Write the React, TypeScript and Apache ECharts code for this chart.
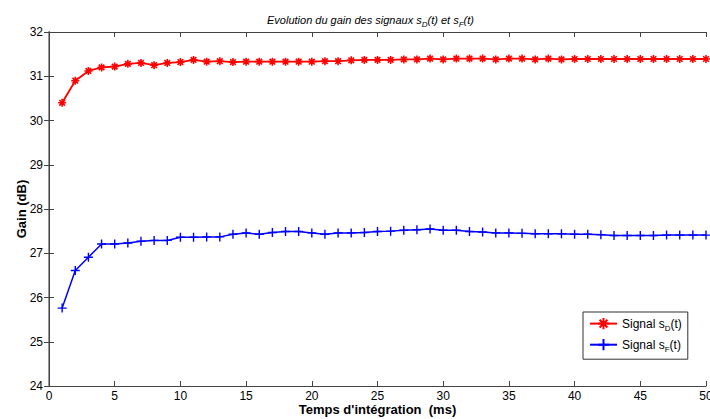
import React, { useEffect, useRef } from "react";
import * as echarts from "echarts";

const xValues = Array.from({ length: 50 }, (_, i) => i + 1);
const signalD = [
  30.40, 30.90, 31.12, 31.20, 31.22, 31.28, 31.30, 31.25, 31.30, 31.32,
  31.37, 31.33, 31.34, 31.32, 31.33, 31.33, 31.33, 31.33, 31.33, 31.33,
  31.34, 31.34, 31.36, 31.37, 31.37, 31.37, 31.38, 31.38, 31.40, 31.38,
  31.40, 31.40, 31.40, 31.38, 31.40, 31.40, 31.38, 31.40, 31.38, 31.39,
  31.39, 31.39, 31.39, 31.39, 31.39, 31.39, 31.39, 31.39, 31.39, 31.39,
];
const signalF = [
  25.76, 26.61, 26.91, 27.21, 27.21, 27.23, 27.27, 27.29, 27.29, 27.36,
  27.36, 27.37, 27.37, 27.43, 27.46, 27.43, 27.47, 27.49, 27.49, 27.46,
  27.43, 27.46, 27.46, 27.47, 27.49, 27.50, 27.52, 27.53, 27.55, 27.52,
  27.52, 27.49, 27.48, 27.46, 27.46, 27.45, 27.44, 27.44, 27.44, 27.43,
  27.43, 27.42, 27.40, 27.40, 27.40, 27.40, 27.41, 27.41, 27.41, 27.41,
];

const ASTERISK = "path://M0,5L10,5M5,0L5,10M1.5,1.5L8.5,8.5M8.5,1.5L1.5,8.5";
const PLUS = "path://M0,5L10,5M5,0L5,10";

const FONT = "Liberation Sans, Arial, sans-serif";

export default function App() {
  const ref = useRef<HTMLDivElement>(null);
  useEffect(() => {
    if (!ref.current) return;
    const chart = echarts.init(ref.current, null, { renderer: "svg" });
    const subRich = {
      sub: { fontSize: 8, fontFamily: FONT, padding: [9, 0, 0, 0], color: "#000" },
    };
    const axisCommon = {
      axisLine: { show: true, lineStyle: { color: "#444", width: 1 } },
      splitLine: { show: false },
      axisTick: { show: true, inside: true, length: 5, lineStyle: { color: "#444" } },
    };
    chart.setOption({
      animation: false,
      backgroundColor: "#fff",
      textStyle: { fontFamily: FONT },
      title: {
        text: "Evolution du gain des signaux s{sub|D}(t) et s{sub|F}(t)",
        left: 262,
        top: 6,
        textStyle: {
          fontSize: 11,
          fontStyle: "italic",
          fontWeight: "normal",
          color: "#000",
          fontFamily: FONT,
          rich: {
            sub: { fontSize: 8, fontStyle: "italic", fontFamily: FONT, padding: [9, 0, 0, 0], color: "#000" },
          },
        },
      },
      grid: { left: 49, right: 4, top: 32, bottom: 33, containLabel: false, outerBoundsMode: "none" },
      legend: {
        orient: "vertical",
        left: 583,
        top: 312,
        width: 105,
        backgroundColor: "#fff",
        borderColor: "#333",
        borderWidth: 1,
        borderRadius: 0,
        padding: [5, 6, 6, 6],
        itemGap: 6,
        itemWidth: 27,
        itemHeight: 14,
        data: ["D", "F"],
        formatter: (name: string) => "Signal s{sub|" + name + "}(t)",
        textStyle: { fontSize: 12, color: "#000", fontFamily: FONT, rich: subRich },
      },
      xAxis: [
        {
          type: "value",
          min: 0,
          max: 50,
          interval: 5,
          name: "Temps d'intégration  (ms)",
          nameLocation: "middle",
          nameGap: 17,
          nameMoveOverlap: false,
          nameTextStyle: { fontWeight: "bold", fontSize: 13, color: "#000", fontFamily: FONT },
          axisLabel: { color: "#000", fontSize: 12, margin: 4, fontFamily: FONT },
          ...axisCommon,
        },
        {
          type: "value",
          position: "top",
          min: 0,
          max: 50,
          interval: 5,
          axisLabel: { show: false },
          ...axisCommon,
        },
      ],
      yAxis: [
        {
          type: "value",
          min: 24,
          max: 32,
          interval: 1,
          name: "Gain (dB)",
          nameLocation: "middle",
          nameGap: 21,
          nameMoveOverlap: false,
          nameTextStyle: { fontWeight: "bold", fontSize: 13, color: "#000", fontFamily: FONT },
          axisLabel: { color: "#000", fontSize: 12, margin: 6, fontFamily: FONT },
          ...axisCommon,
          axisLine: { show: true, lineStyle: { color: "#999", width: 2 } },
        },
        {
          type: "value",
          position: "right",
          min: 24,
          max: 32,
          interval: 1,
          axisLabel: { show: false },
          ...axisCommon,
        },
      ],
      series: [
        {
          name: "D",
          type: "line",
          data: xValues.map((x, i) => [x, signalD[i]]),
          symbol: ASTERISK,
          symbolSize: 8,
          showAllSymbol: true,
          lineStyle: { color: "#ff0000", width: 1.8 },
          itemStyle: { color: "#ff0000", borderColor: "#ff0000", borderWidth: 1.6 },
        },
        {
          name: "F",
          type: "line",
          data: xValues.map((x, i) => [x, signalF[i]]),
          symbol: PLUS,
          symbolSize: 9,
          showAllSymbol: true,
          lineStyle: { color: "#0000ff", width: 1.5 },
          itemStyle: { color: "#0000ff", borderColor: "#0000ff", borderWidth: 1.4 },
        },
      ],
    });
    return () => chart.dispose();
  }, []);
  return <div ref={ref} style={{ width: 710, height: 419, position: "absolute", left: 0, top: 0 }} />;
}
